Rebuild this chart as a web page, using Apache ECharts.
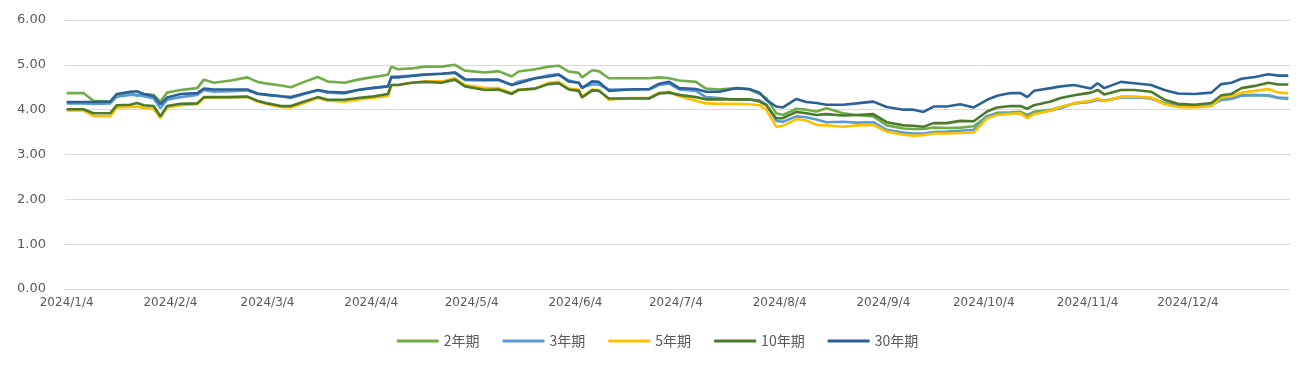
<!DOCTYPE html>
<html>
<head>
<meta charset="utf-8">
<script src="https://cdn.jsdelivr.net/npm/echarts@6/dist/echarts.min.js"></script>
<style>
html,body{margin:0;padding:0;background:#fff;}
#chart{width:1315px;height:369px;}
</style>
</head>
<body>
<div id="chart"></div>
<script>
// axis range (calendar days)
const axisStart = '2024/1/4';
const axisEnd = '2025/1/3';
const yTicks = [0, 1, 2, 3, 4, 5, 6];
const seriesNames = ['2年期', '3年期', '5年期', '10年期', '30年期'];

// sample dates
const dates = ['2024/1/4','2024/1/9','2024/1/12','2024/1/17','2024/1/19','2024/1/23','2024/1/25','2024/1/27','2024/1/30','2024/2/1',
'2024/2/3','2024/2/7','2024/2/12','2024/2/14','2024/2/17','2024/2/22','2024/2/27','2024/3/1','2024/3/4','2024/3/8',
'2024/3/11','2024/3/15','2024/3/19','2024/3/22','2024/3/27','2024/3/31','2024/4/4','2024/4/9','2024/4/10','2024/4/12',
'2024/4/16','2024/4/20','2024/4/25','2024/4/29','2024/5/2','2024/5/8','2024/5/12','2024/5/16','2024/5/18','2024/5/23',
'2024/5/27','2024/5/30','2024/6/2','2024/6/5','2024/6/6','2024/6/9','2024/6/11','2024/6/14','2024/6/20','2024/6/26',
'2024/6/29','2024/7/2','2024/7/5','2024/7/10','2024/7/13','2024/7/17','2024/7/22','2024/7/26','2024/7/29','2024/7/31',
'2024/8/3','2024/8/5','2024/8/9','2024/8/12','2024/8/15','2024/8/18','2024/8/23','2024/8/27','2024/9/1','2024/9/5',
'2024/9/10','2024/9/13','2024/9/16','2024/9/19','2024/9/23','2024/9/27','2024/10/1','2024/10/5','2024/10/8','2024/10/12',
'2024/10/15','2024/10/17','2024/10/19','2024/10/24','2024/10/27','2024/10/31','2024/11/5','2024/11/7','2024/11/9','2024/11/14',
'2024/11/18','2024/11/23','2024/11/27','2024/12/1','2024/12/6','2024/12/11','2024/12/14','2024/12/17','2024/12/20','2024/12/24',
'2024/12/28','2024/12/31','2025/1/3'];

const y2 = [4.37,4.37,4.20,4.18,4.33,4.37,4.31,4.35,4.33,4.18,
4.38,4.44,4.48,4.67,4.60,4.65,4.72,4.62,4.58,4.54,
4.50,4.62,4.73,4.63,4.60,4.67,4.72,4.78,4.96,4.90,
4.92,4.96,4.96,5.00,4.87,4.83,4.86,4.74,4.85,4.90,
4.96,4.98,4.85,4.82,4.72,4.88,4.86,4.70,4.70,4.70,
4.72,4.70,4.65,4.62,4.47,4.45,4.48,4.45,4.35,4.26,
3.92,3.88,4.02,4.00,3.96,4.03,3.92,3.88,3.85,3.65,
3.58,3.57,3.57,3.60,3.59,3.60,3.63,3.85,3.93,3.94,
3.95,3.88,3.95,4.00,4.06,4.14,4.18,4.22,4.20,4.28,
4.28,4.26,4.15,4.10,4.08,4.12,4.22,4.24,4.32,4.33,
4.31,4.26,4.24];

const y3 = [4.14,4.14,4.13,4.14,4.29,4.33,4.33,4.30,4.25,4.03,
4.22,4.28,4.33,4.44,4.40,4.41,4.43,4.35,4.33,4.30,
4.26,4.35,4.43,4.38,4.36,4.44,4.48,4.52,4.74,4.74,
4.76,4.79,4.80,4.82,4.66,4.65,4.66,4.55,4.63,4.70,
4.77,4.79,4.65,4.60,4.50,4.56,4.56,4.45,4.45,4.45,
4.55,4.58,4.45,4.42,4.28,4.26,4.22,4.22,4.21,4.12,
3.75,3.73,3.85,3.83,3.78,3.72,3.73,3.71,3.72,3.55,
3.49,3.47,3.47,3.50,3.51,3.53,3.55,3.86,3.90,3.91,
3.91,3.84,3.91,3.98,4.03,4.14,4.18,4.22,4.20,4.27,
4.27,4.25,4.13,4.08,4.07,4.10,4.22,4.25,4.31,4.32,
4.32,4.27,4.26];

const y5 = [3.98,3.98,3.86,3.85,4.05,4.06,4.07,4.04,4.02,3.81,
4.05,4.10,4.12,4.26,4.27,4.28,4.28,4.18,4.12,4.06,
4.05,4.15,4.26,4.20,4.18,4.22,4.26,4.30,4.55,4.55,
4.60,4.63,4.63,4.70,4.55,4.48,4.48,4.37,4.45,4.47,
4.60,4.62,4.47,4.45,4.29,4.45,4.44,4.22,4.26,4.26,
4.38,4.40,4.30,4.20,4.14,4.13,4.13,4.12,4.10,4.00,
3.62,3.64,3.79,3.76,3.66,3.65,3.62,3.65,3.66,3.51,
3.44,3.42,3.43,3.47,3.47,3.48,3.49,3.81,3.88,3.91,
3.92,3.81,3.90,3.98,4.06,4.14,4.20,4.25,4.19,4.29,
4.29,4.27,4.12,4.06,4.05,4.08,4.27,4.30,4.38,4.42,
4.46,4.38,4.37];

const y10 = [4.01,4.01,3.92,3.92,4.10,4.11,4.15,4.10,4.08,3.85,
4.08,4.13,4.14,4.28,4.28,4.28,4.29,4.20,4.14,4.08,
4.08,4.18,4.28,4.22,4.22,4.26,4.29,4.35,4.55,4.55,
4.60,4.62,4.60,4.67,4.52,4.44,4.45,4.35,4.44,4.47,
4.57,4.59,4.45,4.42,4.27,4.43,4.42,4.25,4.25,4.25,
4.36,4.38,4.33,4.28,4.23,4.23,4.23,4.23,4.18,4.10,
3.81,3.81,3.95,3.92,3.88,3.90,3.87,3.88,3.90,3.72,
3.65,3.64,3.62,3.70,3.70,3.75,3.74,3.96,4.05,4.08,
4.08,4.02,4.10,4.18,4.26,4.32,4.38,4.44,4.34,4.44,
4.44,4.40,4.22,4.13,4.11,4.15,4.32,4.35,4.48,4.53,
4.60,4.56,4.56];

const y30 = [4.17,4.17,4.17,4.18,4.35,4.40,4.41,4.35,4.30,4.12,
4.27,4.35,4.37,4.47,4.45,4.45,4.45,4.36,4.33,4.30,
4.28,4.36,4.44,4.40,4.38,4.44,4.48,4.52,4.72,4.72,
4.75,4.78,4.80,4.83,4.68,4.67,4.67,4.55,4.59,4.70,
4.74,4.78,4.63,4.60,4.48,4.63,4.62,4.42,4.45,4.46,
4.58,4.62,4.48,4.46,4.40,4.40,4.48,4.46,4.38,4.22,
4.07,4.05,4.24,4.17,4.15,4.11,4.11,4.14,4.18,4.06,
4.00,4.00,3.95,4.07,4.07,4.12,4.05,4.22,4.31,4.37,
4.37,4.28,4.42,4.48,4.52,4.55,4.47,4.59,4.48,4.62,
4.59,4.55,4.44,4.36,4.35,4.38,4.57,4.60,4.69,4.73,
4.79,4.76,4.76];

const colors = ['#70AD47', '#5B9BD5', '#FFC000', '#4A7A2A', '#2B6197'];
const valueSets = [y2, y3, y5, y10, y30];

// build full calendar-day category axis
function parseD(s){ const p = s.split('/').map(Number); return Date.UTC(p[0], p[1]-1, p[2]); }
function fmtD(t){ const d = new Date(t); return d.getUTCFullYear() + '/' + (d.getUTCMonth()+1) + '/' + d.getUTCDate(); }
const categories = [];
for (let t = parseD(axisStart); t <= parseD(axisEnd); t += 86400000) categories.push(fmtD(t));

const series = seriesNames.map((name, i) => ({
  name: name,
  type: 'line',
  data: dates.map((d, j) => [d, valueSets[i][j]]),
  showSymbol: false,
  symbol: 'none',
  connectNulls: true,
  lineStyle: { width: 2.6, color: colors[i] },
  itemStyle: { color: colors[i] },
  emphasis: { disabled: true },
  z: 2 + i
}));

const chart = echarts.init(document.getElementById('chart'), null, { renderer: 'canvas' });
chart.setOption({
  animation: false,
  grid: { left: 65, right: 25, top: 20, bottom: 80, containLabel: false },
  legend: {
    data: seriesNames.map((n, i) => ({ name: n, icon: 'rect', itemStyle: { color: colors[i] } })),
    bottom: 16,
    left: 'center',
    itemWidth: 42,
    itemHeight: 3,
    itemGap: 23,
    textStyle: { color: '#595959', fontSize: 14, fontFamily: 'Noto Sans CJK SC' }
  },
  xAxis: {
    type: 'category',
    data: categories,
    boundaryGap: true,
    axisLine: { show: true, lineStyle: { color: '#d9d9d9', width: 1 } },
    axisTick: { show: false },
    axisLabel: {
      interval: function (idx, val) { return val.split('/')[2] === '4'; },
      color: '#595959',
      fontSize: 12,
      fontFamily: 'DejaVu Sans',
      margin: 8
    },
    splitLine: { show: false }
  },
  yAxis: {
    type: 'value',
    min: yTicks[0],
    max: yTicks[yTicks.length - 1],
    interval: 1,
    axisLine: { show: false },
    axisTick: { show: false },
    axisLabel: {
      formatter: v => v.toFixed(2),
      color: '#595959',
      fontSize: 13,
      fontFamily: 'DejaVu Sans',
      margin: 19
    },
    splitLine: { lineStyle: { color: '#d9d9d9', width: 1 } }
  },
  series: series
});
</script>
</body>
</html>
